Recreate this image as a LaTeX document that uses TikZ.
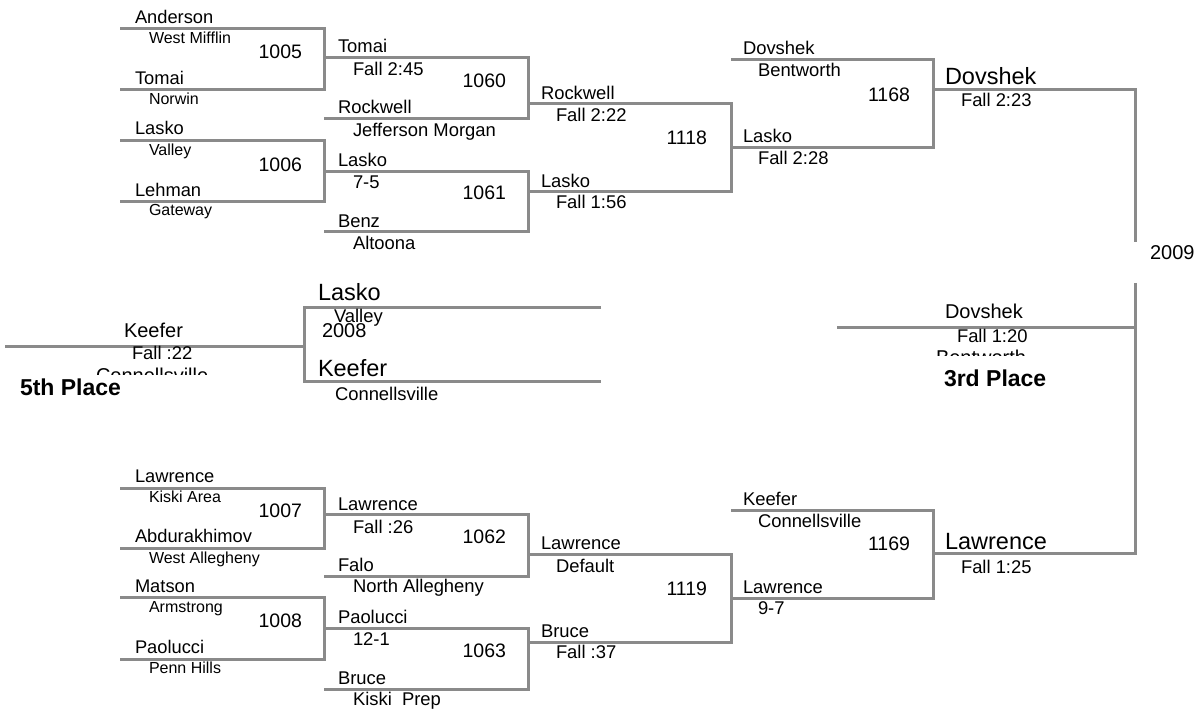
\documentclass[tikz,border=0pt]{standalone}
\usepackage{fontspec}
\setmainfont{Liberation Sans}
\definecolor{linegray}{RGB}{138,138,138}
\begin{document}
\begin{tikzpicture}[x=1pt,y=-1pt,
 br/.style={draw=linegray,line width=3pt,line join=miter},
 tx/.style={inner sep=0pt,outer sep=0pt,anchor=base west},
 nmA/.style={tx,font=\fontsize{18.3}{20}\selectfont},
 scA/.style={tx,font=\fontsize{16}{18}\selectfont},
 nm/.style={tx,font=\fontsize{18.4}{20}\selectfont},
 num/.style={tx,anchor=base east,font=\fontsize{19.5}{21}\selectfont},
 big/.style={tx,font=\fontsize{23.5}{25}\selectfont},
 mid/.style={tx,font=\fontsize{20}{22}\selectfont},
 lbl/.style={tx,font=\bfseries\fontsize{23}{25}\selectfont},
]
\useasboundingbox (0,0) rectangle (1199,711);
% brackets
\foreach \xl/\xr/\yt/\yb in {
 120/324/29/90, 120/324/141/202, 120/324/488/548, 120/324/597/659,
 324/528/58/119, 324/528/172/232, 324/528/514/576, 324/528/628/689,
 528/731/104/192, 528/731/554/642,
 731/933/60/148, 731/933/510/598}
 \draw[br] (\xl,\yt) -- (\xr,\yt) -- (\xr,\yb) -- (\xl,\yb);
% final
\coordinate (ftop) at (1135,242);
\coordinate (fbot) at (1135,283);
\draw[br] (933,90) -- (1135,90) -- (ftop);
\draw[br] (fbot) -- (1135,553) -- (933,553);
\draw[br] (837,327) -- (1135,327);
% 5th place
\draw[br] (5,346) -- (304,346);
\draw[br] (601,307) -- (304,307) -- (304,381) -- (601,381);

% round 1 top
\node[nmA] (a1) at (135,24) {Anderson};
\node[scA] (a2) at (149,44) {West Mifflin};
\node[num] (m1005) at (302,59) {1005};
\node[nmA] (a3) at (135,85) {Tomai};
\node[scA] (a4) at (149,105) {Norwin};
\node[nmA] (a5) at (135,135) {Lasko};
\node[scA] (a6) at (149,156) {Valley};
\node[num] (m1006) at (302,172) {1006};
\node[nmA] (a7) at (135,197) {Lehman};
\node[scA] (a8) at (149,216) {Gateway};
% round 2 top
\node[nm] (b1) at (338,53) {Tomai};
\node[nm] (b2) at (353,76) {Fall 2:45};
\node[num] (m1060) at (506,88) {1060};
\node[nm] (b3) at (338,114) {Rockwell};
\node[nm] (b4) at (353,137) {Jefferson Morgan};
\node[nm] (b5) at (338,167) {Lasko};
\node[nm] (b6) at (353,189) {7-5};
\node[num] (m1061) at (506,200) {1061};
\node[nm] (b7) at (338,228) {Benz};
\node[nm] (b8) at (353,250) {Altoona};
% round 3 top
\node[nm] (c1) at (541,100) {Rockwell};
\node[nm] (c2) at (556,122) {Fall 2:22};
\node[num] (m1118) at (707,145) {1118};
\node[nm] (c3) at (541,188) {Lasko};
\node[nm] (c4) at (556,209) {Fall 1:56};
% round 4 top
\node[nm] (d1) at (743,55) {Dovshek};
\node[nm] (d2) at (758,77) {Bentworth};
\node[num] (m1168) at (910,102) {1168};
\node[nm] (d3) at (743,143) {Lasko};
\node[nm] (d4) at (758,165) {Fall 2:28};
% final top
\node[big] (e1) at (945,85) {Dovshek};
\node[nm] (e2) at (961,107) {Fall 2:23};
\node[mid] (m2009) at (1150,260) {2009};
% 3rd place
\node[mid] (f1) at (945,319) {Dovshek};
\node[nm] (f2) at (957,342) {Fall 1:20};
\begin{scope}
\clip (900,340) rectangle (1060,355);
\node[mid] (f3) at (936,364) {Bentworth};
\end{scope}
\node[lbl] (third) at (944,386) {3rd Place};
% 5th place
\node[mid] (g1) at (124,337) {Keefer};
\node[nm] (g2) at (132,359) {Fall :22};
\begin{scope}
\clip (60,360) rectangle (260,374);
\node[mid] (g3) at (96,382) {Connellsville};
\end{scope}
\node[lbl] (fifth) at (20,395) {5th Place};
\node[big] (h1) at (318,301) {Lasko};
\node[nm] (h2) at (334,323) {Valley};
\node[mid] (m2008) at (322,337) {2008};
\node[big] (h3) at (318,376) {Keefer};
\node[nm] (h4) at (335,400) {Connellsville};

% round 1 bottom
\node[nmA] (i1) at (135,482) {Lawrence};
\node[scA] (i2) at (149,502) {Kiski Area};
\node[num] (m1007) at (302,517) {1007};
\node[nmA] (i3) at (135,542) {Abdurakhimov};
\node[scA] (i4) at (149,563) {West Allegheny};
\node[nmA] (i5) at (135,592) {Matson};
\node[scA] (i6) at (149,612) {Armstrong};
\node[num] (m1008) at (302,627) {1008};
\node[nmA] (i7) at (135,653) {Paolucci};
\node[scA] (i8) at (149,673) {Penn Hills};
% round 2 bottom
\node[nm] (j1) at (338,510) {Lawrence};
\node[nm] (j2) at (353,533) {Fall :26};
\node[num] (m1062) at (506,543) {1062};
\node[nm] (j3) at (338,571) {Falo};
\node[nm] (j4) at (353,592) {North Allegheny};
\node[nm] (j5) at (338,623) {Paolucci};
\node[nm] (j6) at (353,645) {12-1};
\node[num] (m1063) at (506,657) {1063};
\node[nm] (j7) at (338,684) {Bruce};
\node[nm] (j8) at (353,705) {Kiski~~Prep};
% round 3 bottom
\node[nm] (k1) at (541,549) {Lawrence};
\node[nm] (k2) at (556,572) {Default};
\node[num] (m1119) at (707,595) {1119};
\node[nm] (k3) at (541,637) {Bruce};
\node[nm] (k4) at (556,658) {Fall :37};
% round 4 bottom
\node[nm] (l1) at (743,505) {Keefer};
\node[nm] (l2) at (758,527) {Connellsville};
\node[num] (m1169) at (910,550) {1169};
\node[nm] (l3) at (743,593) {Lawrence};
\node[nm] (l4) at (758,614) {9-7};
% final bottom
\node[big] (o1) at (945,549) {Lawrence};
\node[nm] (o2) at (961,573) {Fall 1:25};
\end{tikzpicture}
\end{document}
